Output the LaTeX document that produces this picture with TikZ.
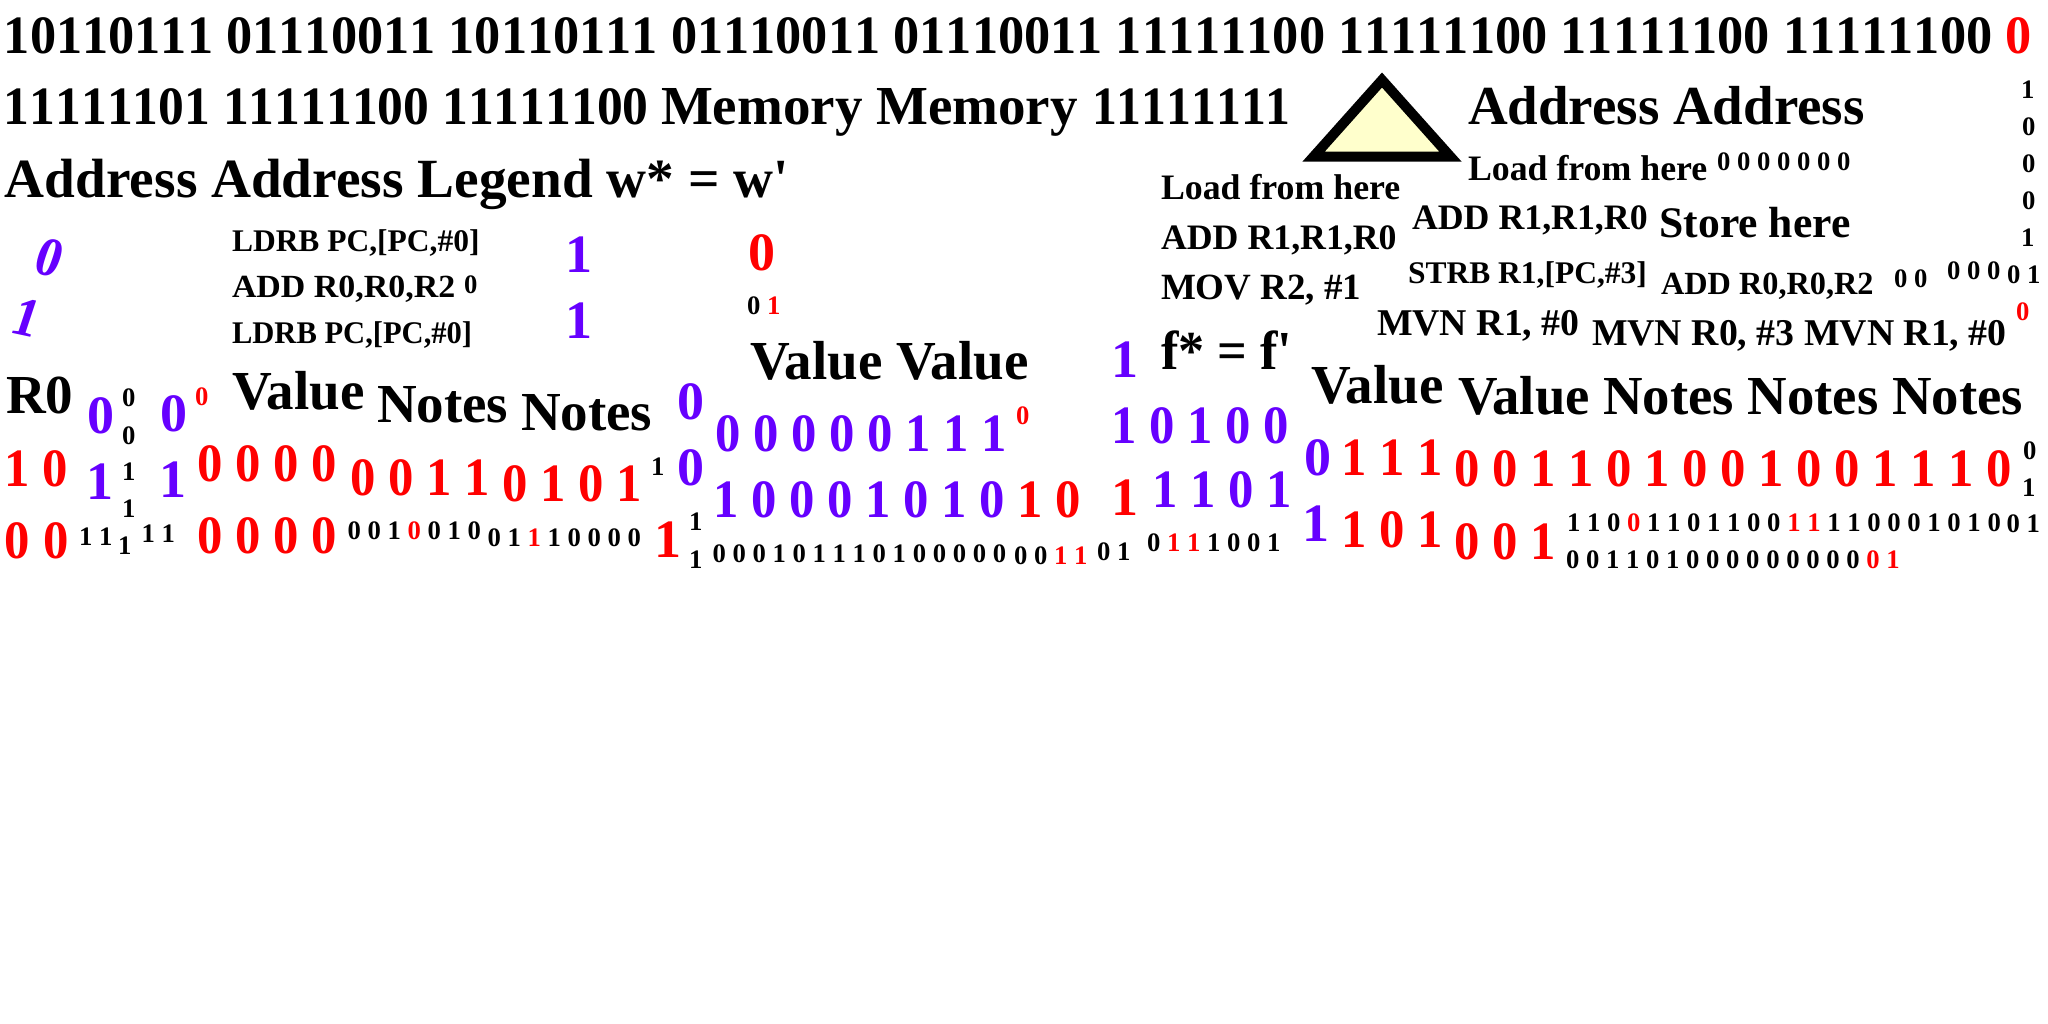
\documentclass[tikz,border=0pt]{standalone}
\usepackage{fontspec}
\usepackage{graphicx}
\newfontfamily\tf{Liberation Serif}
\newfontfamily\tn[Kerning=Off]{Liberation Serif}
\definecolor{purp}{HTML}{6600FF}
\definecolor{tri}{HTML}{FFFFCC}
\newcommand\hs[2]{\scalebox{#1}[1]{#2}}
\newcommand\rd[1]{\textcolor{red}{#1}}
\tikzset{
  tx/.style={anchor=base west,inner sep=0pt,outer sep=0pt,text=black},
  hd/.style={tx,font=\tf\bfseries\fontsize{55}{60}\selectfont},
  bg/.style={tx,font=\tf\bfseries\fontsize{54}{60}\selectfont},
  bin/.style={tx,font=\tn\bfseries\fontsize{54}{60}\selectfont},
  ins/.style={tx,font=\tf\bfseries\fontsize{31.5}{36}\selectfont},
  inw/.style={tx,font=\tf\bfseries\fontsize{32.3}{36}\selectfont},
  mid/.style={tx,font=\tf\bfseries\fontsize{35.8}{40}\selectfont},
  mvn/.style={tx,font=\tf\bfseries\fontsize{37.8}{42}\selectfont},
  sm/.style={tx,font=\tf\bfseries\fontsize{26.7}{30}\selectfont},
  pu/.style={text=purp},
  re/.style={text=red},
  ita/.style={tx,text=purp,font=\tf\bfseries\fontsize{53}{60}\selectfont,xslant=.33,yslant=-.2,transform shape}
}
\begin{document}
\begin{tikzpicture}[x=1pt,y=-1pt]
\useasboundingbox (0,0) rectangle (2048,1024);
\fill[white] (0,0) rectangle (2048,1024);
% top rows
\node[bin] (a1) at (4,53.5) {\hs{.969}{10110111 01110011 10110111 01110011 01110011 11111100 11111100 11111100 11111100 \rd{0}}};
\node[bin] (a2) at (4,125) {\hs{.955}{11111101 11111100 11111100}};
\node[hd] (a3) at (661,125) {Memory Memory};
\node[bin] (a3b) at (1092,125) {\hs{.92}{11111111}};
\draw[line width=10pt,miter limit=10,fill=tri] (1382,80) -- (1450.5,156.7) -- (1313.5,156.7) -- cycle;
\node[hd] (a4) at (1468,125) {Address Address};
\node[tx,font=\tf\bfseries\fontsize{55.3}{60}\selectfont] (a5) at (5,198) {Address Address Legend w* = w'};
% small column right
\node[sm] (c1) at (2021,98.3) {1};
\node[sm] (c2) at (2022,135.7) {0};
\node[sm] (c3) at (2022,172.3) {0};
\node[sm] (c4) at (2022,210) {0};
\node[sm] (c5) at (2021,246.7) {1};
% instructions left
\node[ita] (b1) at (31,273) {0};
\node[ita] (b2) at (8.5,333) {1};
\node[ins] (b3) at (232,251.5) {LDRB PC,[PC,\#0]};
\node[inw] (b4) at (232,298) {\hs{1.05}{ADD R0,R0,R2}};
\node[sm] (b5) at (464,293.5) {0};
\node[ins] (b6) at (232,343.5) {\hs{.97}{LDRB PC,[PC,\#0]}};
\node[bg,pu] (b7) at (565,272.7) {1};
\node[bg,pu] (b8) at (565,338.7) {1};
\node[bg,re] (b9) at (748.5,270.7) {0};
\node[sm] (b10) at (747,315) {0 \rd{1}};
% instructions centre
\node[mid] (d1) at (1161,200) {Load from here};
\node[mid] (d2) at (1161,250) {ADD R1,R1,R0};
\node[tx,font=\tf\bfseries\fontsize{37}{40}\selectfont] (d3) at (1161,300) {MOV R2, \#1};
\node[mid] (d4) at (1468,180.5) {Load from here};
\node[sm] (d5) at (1717,170.7) {0 0 0 0 0 0 0};
\node[mid] (d6) at (1412,230) {ADD R1,R1,R0};
\node[tx,font=\tf\bfseries\fontsize{43.6}{48}\selectfont] (d7) at (1659.5,237.5) {Store here};
\node[ins] (d8) at (1408,284) {STRB R1,[PC,\#3]};
\node[inw] (d9) at (1661,295) {ADD R0,R0,R2};
\node[sm] (d10) at (1894,288) {0 0};
\node[sm] (d11) at (1947,280) {0 0 0};
\node[sm] (d12) at (2007,284) {0 1};
\node[mvn] (d13) at (1377,335) {MVN R1, \#0};
\node[mvn] (d14) at (1592,345.7) {MVN R0, \#3 MVN R1, \#0};
\node[sm,re] (d15) at (2016,320.7) {0};
% values / notes row
\node[hd] (e1) at (6,413) {R0};
\node[bg,pu] (e2) at (87,433) {0};
\node[sm] (e3) at (122,406.7) {0};
\node[sm] (e4) at (122,444) {0};
\node[bg,pu] (e5) at (160,431.7) {0};
\node[sm,re] (e6) at (195,405) {0};
\node[hd] (e7) at (232,409) {Value};
\node[hd] (e8) at (377,422.7) {Notes};
\node[hd] (e9) at (521,430) {Notes};
\node[bg,pu] (e10) at (677,419) {0};
\node[hd] (e11) at (750,379) {Value Value};
\node[bg,pu] (e12) at (1111,377) {1};
\node[hd] (e13) at (1161,369) {\hs{.95}{f* = f'}};
\node[hd] (e14) at (1311,403.3) {Value};
\node[hd] (e15) at (1458,414) {\hs{.995}{Value Notes Notes Notes}};
% digit rows 1
\node[bg,pu] (f1) at (715,451.7) {\hs{.94}{0 0 0 0 0 1 1 1}};
\node[sm,re] (f2) at (1016,424) {0};
\node[bg,pu] (f3) at (1111,443) {\hs{.94}{1 0 1 0 0}};
\node[bg,re] (g1) at (4.5,486.7) {\hs{.94}{1 0}};
\node[bg,pu] (g2) at (86,499) {1};
\node[sm] (g3) at (122,480.7) {1};
\node[sm] (g4) at (122,517) {1};
\node[bg,pu] (g5) at (159.5,497) {1};
\node[bg,re] (g6) at (197,481.7) {\hs{.94}{0 0 0 0}};
\node[bg,re] (g7) at (350,495) {\hs{.94}{0 0 1 1}};
\node[bg,re] (g8) at (502,501.7) {\hs{.94}{0 1 0 1}};
\node[sm] (g9) at (651,475) {1};
\node[bg,pu] (g10) at (677,485.7) {0};
\node[bg,pu] (g11) at (713,517.3) {\hs{.94}{1 0 0 0 1 0 1 0 \rd{1 0}}};
\node[bg,re] (g12) at (1111,515.7) {1};
\node[bg,pu] (g13) at (1152,507) {\hs{.94}{1 1 0 1}};
\node[bg,pu] (h1) at (1304,475.7) {0};
\node[bg,re] (h2) at (1341,475.7) {\hs{.94}{1 1 1}};
\node[bg,re] (h3) at (1454,486.7) {\hs{.94}{0 0 1 1 0 1 0 0 1 0 0 1 1 1 0}};
\node[sm] (h4) at (2023,459) {0};
\node[sm] (h5) at (2022,496.7) {1};
% bottom rows
\node[bg,re] (i1) at (5,558) {\hs{.94}{0 0}};
\node[sm] (i2) at (79,545) {1 1};
\node[sm] (i3) at (118,554) {1};
\node[sm] (i4) at (141.5,542.7) {1 1};
\node[bg,re] (i5) at (197,553) {\hs{.94}{0 0 0 0}};
\node[sm] (i6) at (347.5,539) {0 0 1 \rd{0} 0 1 0};
\node[sm] (i7) at (487.5,546.7) {0 1 \rd{1} 1 0 0 0 0};
\node[bg,re] (i8) at (654,557) {1};
\node[sm] (i9) at (689,530) {1};
\node[sm] (i10) at (689,568) {1};
\node[sm] (i11) at (712.5,562.7) {0 0 0 1 0 1 1 1 0 1 0 0 0 0 0};
\node[sm] (i12) at (1014,564.5) {0 0 \rd{1 1}};
\node[sm] (i13) at (1097,560.7) {0 1};
\node[sm] (i14) at (1147,551.7) {0 \rd{1 1} 1 0 0 1};
\node[bg,pu] (j1) at (1302,541.7) {1};
\node[bg,re] (j2) at (1341,547) {\hs{.94}{1 0 1}};
\node[bg,re] (j3) at (1454,559) {\hs{.94}{0 0 1}};
\node[sm] (j4) at (1567,531.7) {1 1 0 \rd{0} 1 1 0 1 1 0 0 \rd{1 1} 1 1 0 0 0 1 0 1 0};
\node[sm] (j5) at (2006.5,532.7) {0 1};
\node[sm] (j6) at (1566,568.3) {0 0 1 1 0 1 0 0 0 0 0 0 0 0 0 \rd{0 1}};
\end{tikzpicture}
\end{document}
